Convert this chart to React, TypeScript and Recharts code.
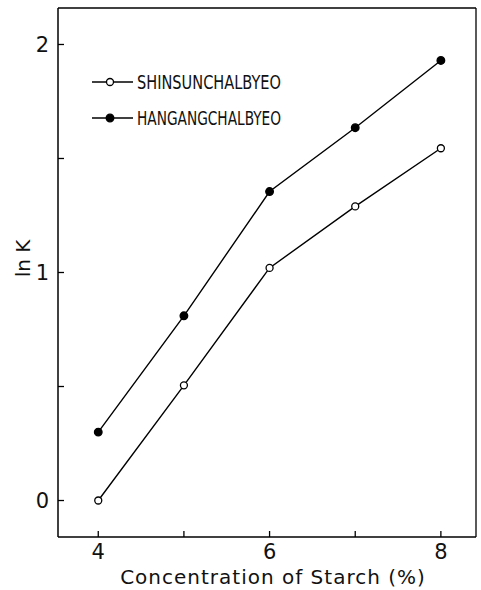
import { LineChart, Line, XAxis, YAxis, Legend, ReferenceLine } from "recharts";

// ln K versus starch concentration for two waxy rice cultivars
const concentration = [4, 5, 6, 7, 8];
const shinsun = [0.0, 0.505, 1.02, 1.29, 1.545];
const hangang = [0.3, 0.81, 1.355, 1.635, 1.93];

const xTicks = [4, 5, 6, 7, 8];
const xTickLabels = ["4", "", "6", "", "8"];
const yTicks = [0, 0.5, 1, 1.5, 2];
const yTickLabels = ["0", "", "1", "", "2"];

const seriesNames = ["SHINSUNCHALBYEO", "HANGANGCHALBYEO"];
const xTitle = "Concentration of Starch (%)";
const yTitle = "ln K";

const X_DOMAIN: [number, number] = [3.53, 8.41];
const Y_DOMAIN: [number, number] = [-0.16, 2.16];

const data = concentration.map((c, i) => ({
  conc: c,
  shin: shinsun[i],
  hang: hangang[i],
}));

const tickFont = {
  fill: "#111",
  fontSize: 21,
  fontFamily: "DejaVu Sans",
};

function SeriesLegend() {
  return (
    <svg width={240} height={70} style={{ display: "block", overflow: "visible" }}>
      {seriesNames.map((name, i) => {
        const cy = 16 + i * 36;
        const open = i === 0;
        return (
          <g key={name}>
            <line x1={4} x2={45} y1={cy} y2={cy} stroke="#000" strokeWidth={1.4} />
            <circle
              cx={22}
              cy={cy}
              r={open ? 3.5 : 3.8}
              fill={open ? "#fff" : "#000"}
              stroke="#000"
              strokeWidth={1.3}
            />
            <text
              x={49}
              y={cy}
              dy="0.36em"
              fontSize={19}
              fontFamily="Liberation Sans Narrow, DejaVu Sans Condensed, sans-serif"
              fill="#111"
              textLength={144}
              lengthAdjust="spacingAndGlyphs"
            >
              {name}
            </text>
          </g>
        );
      })}
    </svg>
  );
}

export default function App() {
  return (
    <div
      style={{
        position: "absolute",
        left: 0,
        top: 0,
        width: 481,
        height: 590,
        background: "#fff",
      }}
    >
      <LineChart
        width={481}
        height={590}
        data={data}
        margin={{ top: 8, right: 5, left: 0, bottom: 0 }}
      >
        <XAxis
          dataKey="conc"
          type="number"
          domain={X_DOMAIN}
          ticks={xTicks}
          tickFormatter={(v: number) => xTickLabels[xTicks.indexOf(v)] ?? ""}
          allowDataOverflow
          height={53}
          tickSize={-6}
          tickMargin={13}
          stroke="#000"
          axisLine={{ stroke: "#000", strokeWidth: 1.5 }}
          tickLine={{ stroke: "#000", strokeWidth: 1.3 }}
          tick={tickFont}
          label={{
            value: xTitle,
            position: "insideBottom",
            offset: 6,
            fill: "#111",
            fontSize: 20,
            letterSpacing: 1,
            fontFamily: "DejaVu Sans",
            dx: 6,
          }}
        />
        <YAxis
          type="number"
          domain={Y_DOMAIN}
          ticks={yTicks}
          tickFormatter={(v: number) => yTickLabels[yTicks.indexOf(v)] ?? ""}
          allowDataOverflow
          width={58}
          tickSize={-6}
          tickMargin={15}
          stroke="#000"
          axisLine={{ stroke: "#000", strokeWidth: 1.5 }}
          tickLine={{ stroke: "#000", strokeWidth: 1.3 }}
          tick={tickFont}
          label={{
            value: yTitle,
            angle: -90,
            position: "center",
            fill: "#111",
            fontSize: 20,
            fontFamily: "DejaVu Sans",
            dx: -6,
            dy: -14,
          }}
        />
        {/* frame: top and right edges of the plot box */}
        <ReferenceLine y={Y_DOMAIN[1]} stroke="#000" strokeWidth={1.3} />
        <ReferenceLine x={X_DOMAIN[1]} stroke="#000" strokeWidth={1.3} />
        <Legend
          layout="vertical"
          align="center"
          verticalAlign="middle"
          wrapperStyle={{ left: 88, top: 66, width: 240 }}
          content={() => <SeriesLegend />}
        />
        <Line
          dataKey="shin"
          name={seriesNames[0]}
          stroke="#000"
          strokeWidth={1.4}
          dot={{ r: 3.5, fill: "#fff", stroke: "#000", strokeWidth: 1.3 }}
          activeDot={false}
          isAnimationActive={false}
        />
        <Line
          dataKey="hang"
          name={seriesNames[1]}
          stroke="#000"
          strokeWidth={1.4}
          dot={{ r: 3.8, fill: "#000", stroke: "#000", strokeWidth: 1.3 }}
          activeDot={false}
          isAnimationActive={false}
        />
      </LineChart>
    </div>
  );
}
